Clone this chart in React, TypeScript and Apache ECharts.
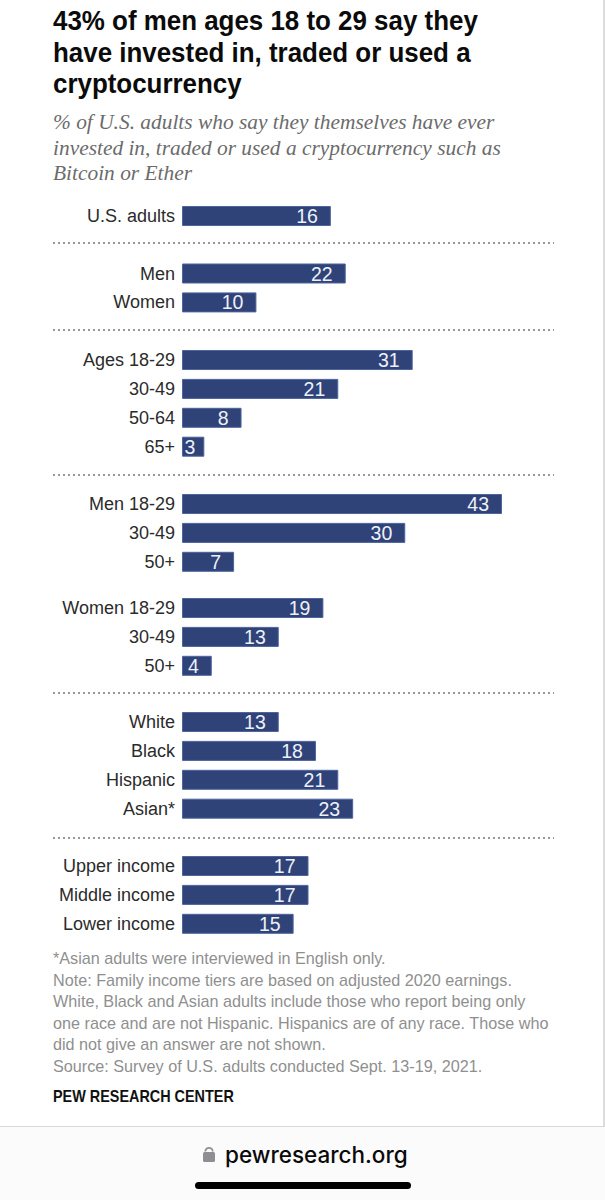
import React, { useEffect, useRef } from "react";
import * as echarts from "echarts";

const titleLines = ["43% of men ages 18 to 29 say they", "have invested in, traded or used a", "cryptocurrency"];
const subtitleLines = [
  "% of U.S. adults who say they themselves have ever",
  "invested in, traded or used a cryptocurrency such as",
  "Bitcoin or Ether",
];
const noteLines = [
  "*Asian adults were interviewed in English only.",
  "Note: Family income tiers are based on adjusted 2020 earnings.",
  "White, Black and Asian adults include those who report being only",
  "one race and are not Hispanic. Hispanics are of any race. Those who",
  "did not give an answer are not shown.",
  "Source: Survey of U.S. adults conducted Sept. 13-19, 2021.",
];
const overallLabels = ["U.S. adults"];
const overallValues = [16];
// The reference prints 16 but draws this bar about as long as a 20 on the shared scale.
const overallDrawnLengths = [20];
const genderLabels = ["Men", "Women"];
const genderValues = [22, 10];
const ageLabels = ["Ages 18-29", "30-49", "50-64", "65+"];
const ageValues = [31, 21, 8, 3];
const menAgeLabels = ["Men 18-29", "30-49", "50+"];
const menAgeValues = [43, 30, 7];
const womenAgeLabels = ["Women 18-29", "30-49", "50+"];
const womenAgeValues = [19, 13, 4];
const raceLabels = ["White", "Black", "Hispanic", "Asian*"];
const raceValues = [13, 18, 21, 23];
const incomeLabels = ["Upper income", "Middle income", "Lower income"];
const incomeValues = [17, 17, 15];

const groups = [
  { labels: overallLabels, values: overallValues, drawn: overallDrawnLengths, firstCenter: 216 },
  { labels: genderLabels, values: genderValues, drawn: genderValues, firstCenter: 273.5 },
  { labels: ageLabels, values: ageValues, drawn: ageValues, firstCenter: 360 },
  { labels: menAgeLabels, values: menAgeValues, drawn: menAgeValues, firstCenter: 504 },
  { labels: womenAgeLabels, values: womenAgeValues, drawn: womenAgeValues, firstCenter: 608 },
  { labels: raceLabels, values: raceValues, drawn: raceValues, firstCenter: 722 },
  { labels: incomeLabels, values: incomeValues, drawn: incomeValues, firstCenter: 866 },
];
const dividerYs = [243, 330, 475, 693, 838];

const ROW = 28.9;
const LEFT = 182;
const TEXT_X = 53;
const UNIT = 320 / 43;
const AXIS_MAX = 50;
const SANS = "'Liberation Sans', Arial, sans-serif";
const SERIF = "'Liberation Serif', serif";

export default function App() {
  const ref = useRef<HTMLDivElement>(null);
  useEffect(() => {
    document.body.style.margin = "0";
    const chart = echarts.init(ref.current!, undefined, { renderer: "svg" });
    const grid: any[] = [];
    const xAxis: any[] = [];
    const yAxis: any[] = [];
    const series: any[] = [];
    groups.forEach((g, i) => {
      grid.push({
        left: LEFT,
        top: g.firstCenter - ROW / 2,
        width: UNIT * AXIS_MAX,
        height: ROW * g.labels.length,
      });
      xAxis.push({ gridIndex: i, type: "value", min: 0, max: AXIS_MAX, show: false });
      yAxis.push({
        gridIndex: i,
        type: "category",
        inverse: true,
        data: g.labels,
        axisLine: { show: false },
        axisTick: { show: false },
        axisLabel: { color: "#2b2b2b", fontFamily: SANS, fontSize: 18, margin: 7 },
      });
      series.push({
        type: "bar",
        xAxisIndex: i,
        yAxisIndex: i,
        data: g.drawn.map((length, j) => ({
          value: length,
          label: {
            formatter: String(g.values[j]),
            distance: g.values[j] <= 3 ? 9 : 13,
          },
        })),
        barWidth: 20,
        itemStyle: { color: "#2f4379", borderColor: "#4d649c", borderWidth: 1 },
        label: {
          show: true,
          position: "insideRight",
          color: "#eef1f8",
          fontFamily: SANS,
          fontSize: 19.5,
        },
      });
    });
    const textEl = (text: string, x: number, y: number, font: string, fill: string, extra: any = {}) => ({
      type: "text",
      x,
      y,
      ...extra,
      style: { text, font, fill, verticalAlign: "middle", align: "left" },
    });
    const graphic: any[] = [
      { type: "rect", z: -1, shape: { x: 0, y: 1127, width: 605, height: 73 }, style: { fill: "#fbfbfb" } },
      ...titleLines.map((t, i) =>
        textEl(t, TEXT_X, 21 + i * 31.5, `bold 27px ${SANS}`, "#0b0b0b", { scaleX: 0.96 }),
      ),
      ...subtitleLines.map((t, i) => textEl(t, TEXT_X, 122 + i * 25.5, `italic 21.4px ${SERIF}`, "#6b6b6b")),
      ...noteLines.map((t, i) => textEl(t, TEXT_X, 958 + i * 21.5, `16.2px ${SANS}`, "#8f8f8f")),
      textEl("PEW RESEARCH CENTER", TEXT_X, 1096, `bold 16px ${SANS}`, "#111111", { scaleX: 0.9 }),
      ...dividerYs.map((y) => ({
        type: "line",
        shape: { x1: TEXT_X, y1: y, x2: 554, y2: y },
        style: { stroke: "#777777", lineWidth: 1.3, lineDash: [2, 3] },
      })),
      { type: "line", shape: { x1: 0, y1: 1126.5, x2: 605, y2: 1126.5 }, style: { stroke: "#d8d8d8", lineWidth: 1 } },
      { type: "line", shape: { x1: 604, y1: 0, x2: 604, y2: 1126 }, style: { stroke: "#b8b8b8", lineWidth: 1 } },
      { type: "rect", shape: { x: 203, y: 1152, width: 12, height: 10, r: 1.5 }, style: { fill: "#8e8e93" } },
      {
        type: "arc",
        shape: { cx: 209, cy: 1151.5, r: 3.7, startAngle: Math.PI, endAngle: Math.PI * 2, clockwise: true },
        style: { stroke: "#8e8e93", lineWidth: 1.8, fill: "none" },
      },
      textEl("pewresearch.org", 225, 1154, `500 22.5px 'Inter', ${SANS}`, "#0a0a0a"),
      { type: "rect", shape: { x: 195, y: 1182, width: 216, height: 7, r: 3.5 }, style: { fill: "#000000" } },
    ];
    chart.setOption({ animation: false, backgroundColor: "#ffffff", grid, xAxis, yAxis, series, graphic });
    return () => chart.dispose();
  }, []);
  return <div ref={ref} style={{ width: 605, height: 1200 }} />;
}
